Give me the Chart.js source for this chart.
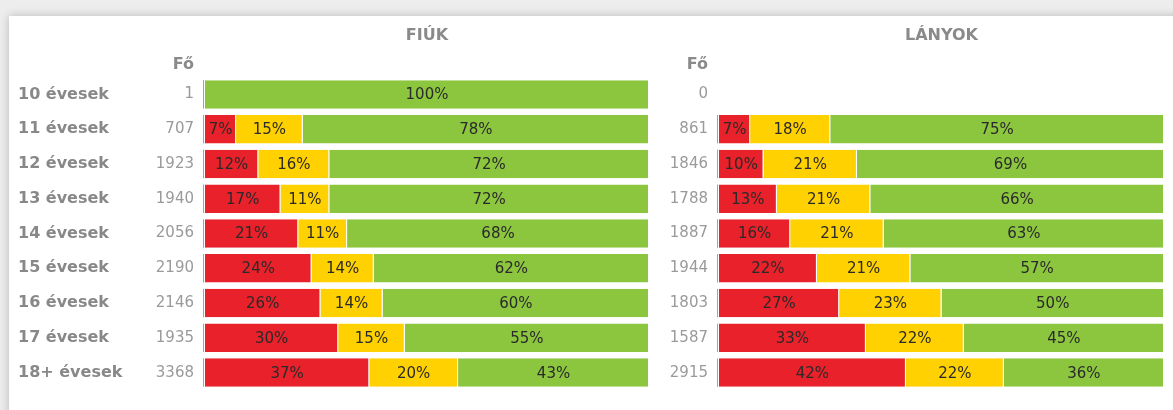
<!DOCTYPE html>
<html>
<head>
<meta charset="utf-8">
<script src="https://cdn.jsdelivr.net/npm/chart.js@4.4.1/dist/chart.umd.min.js"></script>
<style>
  body { margin: 0; width: 1173px; height: 410px; overflow: hidden; background: #ededed; }
  .card { position: absolute; left: 9px; top: 16px; width: 1180px; height: 420px; background: #fff;
          box-shadow: 0 0 9px rgba(0,0,0,0.22); }
  #boys { position: absolute; left: 0; top: 0; }
  #girls { position: absolute; left: 660px; top: 0; }
</style>
</head>
<body>
<div class="card"></div>
<canvas id="boys" width="660" height="410"></canvas>
<canvas id="girls" width="513" height="410"></canvas>
<script>
// korcsoportok
const AGES = ["10 évesek", "11 évesek", "12 évesek", "13 évesek", "14 évesek",
              "15 évesek", "16 évesek", "17 évesek", "18+ évesek"];

// fiúk
const BOYS_N      = [1, 707, 1923, 1940, 2056, 2190, 2146, 1935, 3368];
const BOYS_RED    = [0, 7, 12, 17, 21, 24, 26, 30, 37];
const BOYS_YELLOW = [0, 15, 16, 11, 11, 14, 14, 15, 20];
const BOYS_GREEN  = [100, 78, 72, 72, 68, 62, 60, 55, 43];

// lányok
const GIRLS_N      = [0, 861, 1846, 1788, 1887, 1944, 1803, 1587, 2915];
const GIRLS_RED    = [0, 7, 10, 13, 16, 22, 27, 33, 42];
const GIRLS_YELLOW = [0, 18, 21, 21, 21, 21, 23, 22, 22];
const GIRLS_GREEN  = [0, 75, 69, 66, 63, 57, 50, 45, 36];

const RED = "#e8212a", YELLOW = "#ffd100", GREEN = "#8cc63f";

Chart.defaults.font.family = "'DejaVu Sans', sans-serif";

// % feliratok a sávokon + vékony vonal a sáv elején
const barLabels = {
  id: "barLabels",
  afterDatasetsDraw(chart) {
    const ctx = chart.ctx;
    ctx.save();
    // sáv eleji vonal (csak ha van adat a sorban)
    ctx.strokeStyle = "#b39c9c";
    ctx.lineWidth = 1;
    chart.getDatasetMeta(0).data.forEach((el, j) => {
      const total = chart.data.datasets.reduce((s, ds) => s + (ds.data[j] || 0), 0);
      if (!total) return;
      const { y, height } = el.getProps(["y", "height"], true);
      const x = Math.round(chart.chartArea.left) - 1.5;
      ctx.beginPath();
      ctx.moveTo(x, y - height / 2);
      ctx.lineTo(x, y + height / 2);
      ctx.stroke();
    });

    ctx.font = "15px 'DejaVu Sans'";
    ctx.fillStyle = "#2a2a2a";
    ctx.textAlign = "center";
    ctx.textBaseline = "middle";
    chart.data.datasets.forEach((ds, i) => {
      chart.getDatasetMeta(i).data.forEach((el, j) => {
        const v = ds.data[j];
        if (!v) return;
        const { x, base, y } = el.getProps(["x", "base", "y"], true);
        ctx.fillText(v + "%", (x + base) / 2, y + 1);
      });
    });
    ctx.restore();
  }
};

// FIÚK / LÁNYOK + "Fő" fejléc
const headers = {
  id: "headers",
  afterDraw(chart, args, opts) {
    const ctx = chart.ctx, a = chart.chartArea;
    ctx.save();
    ctx.font = "bold 16px 'DejaVu Sans'";
    ctx.fillStyle = "#8a8a8a";
    ctx.textBaseline = "alphabetic";
    ctx.textAlign = "center";
    ctx.fillText(opts.title, (a.left + a.right) / 2, 40);
    ctx.textAlign = "right";
    ctx.fillText("Fő", a.left - 11, 69);
    ctx.restore();
  }
};

function datasets(red, yellow, green) {
  const common = { borderWidth: { right: 1 }, borderColor: "rgba(255,255,255,0.6)", borderSkipped: false,
                   barPercentage: 0.82, categoryPercentage: 1 };
  return [
    { label: "piros", data: red, backgroundColor: RED, ...common },
    { label: "sárga", data: yellow, backgroundColor: YELLOW, ...common },
    { label: "zöld", data: green, backgroundColor: GREEN, ...common },
  ];
}

function countAxis(counts, w) {
  return {
    type: "category", labels: counts.map(String), position: "left", weight: 1, offset: true,
    grid: { display: false, drawTicks: false },
    border: { display: false },
    ticks: { font: { size: 15 }, color: "#9a9a9a", padding: 11, autoSkip: false },
    afterFit: s => { s.width = w; },
  };
}

new Chart(document.getElementById("boys"), {
  type: "bar",
  data: { labels: AGES, datasets: datasets(BOYS_RED, BOYS_YELLOW, BOYS_GREEN) },
  options: {
    indexAxis: "y", responsive: false, animation: false,
    layout: { padding: { left: 18, right: 11, top: 77, bottom: 10 } },
    plugins: { legend: { display: false }, tooltip: { enabled: false }, headers: { title: "FIÚK" } },
    scales: {
      x: { stacked: true, min: 0, max: 100, display: false },
      y: {
        stacked: true, position: "left", weight: 2,
        grid: { display: false, drawTicks: false }, border: { display: false },
        ticks: { crossAlign: "far", font: { size: 16, weight: "bold" }, color: "#888", padding: 0, autoSkip: false },
        afterFit: s => { s.width = 132; },
      },
      n: countAxis(BOYS_N, 55),
    },
  },
  plugins: [barLabels, headers],
});

new Chart(document.getElementById("girls"), {
  type: "bar",
  data: { labels: AGES, datasets: datasets(GIRLS_RED, GIRLS_YELLOW, GIRLS_GREEN) },
  options: {
    indexAxis: "y", responsive: false, animation: false,
    layout: { padding: { left: 0, right: 9, top: 77, bottom: 10 } },
    plugins: { legend: { display: false }, tooltip: { enabled: false }, headers: { title: "LÁNYOK" } },
    scales: {
      x: { stacked: true, min: 0, max: 100, display: false },
      y: { stacked: true, display: false },
      n: countAxis(GIRLS_N, 59),
    },
  },
  plugins: [barLabels, headers],
});
</script>
</body>
</html>
